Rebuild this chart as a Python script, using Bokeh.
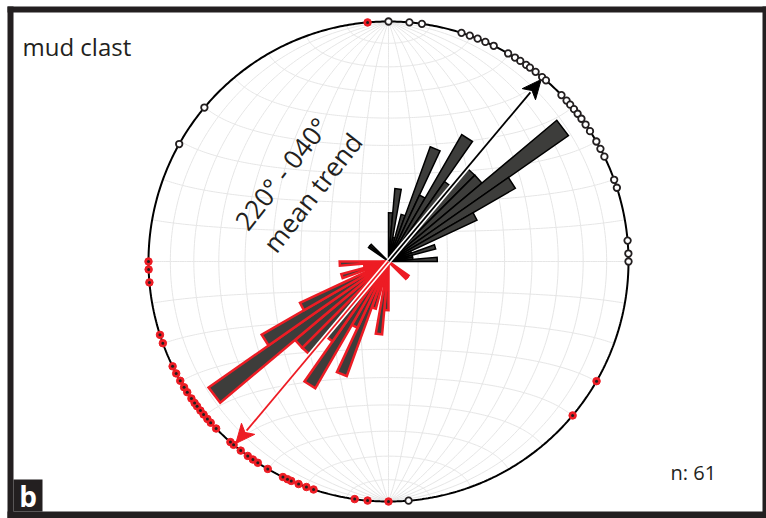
import numpy as np
from bokeh.plotting import figure
from bokeh.models import Range1d
from bokeh.core.properties import value
from bokeh.embed import file_html
from bokeh.resources import INLINE

# ---------------- data ----------------
title_text = "mud clast"
trend_text = "220° - 040°"
trend_label = "mean trend"
n_text = "n: 61"
panel_letter = "b"

mean_trend = 40.0            # degrees, axial mean (040 / 220)
bin_width = 5                # degrees
bin_starts = list(range(0, 180, 5))   # axial bins 0-180, mirrored to 180-360
bin_counts = [2, 3, 1, 2, 5, 3, 6, 4, 5, 5, 9, 6, 4, 1, 2, 1, 1, 2,
              0, 0, 0, 0, 0, 0, 0, 1, 1, 0, 0, 0, 0, 0, 0, 0, 0, 0]
count_scale = 0.1017         # fraction of net radius per count

# azimuths of measurements plotted on the primitive
open_az = [0, 5, 8, 17.7, 19.8, 21.8, 23.8, 26, 29.9, 31.8, 33.3, 35, 36.1, 37.8,
           39.8, 41, 46.1, 47.9, 49.2, 50.6, 52, 53.5, 55.2, 57.1, 60, 62, 64.1,
           70.1, 72.1, 85, 88.1, 90, 175.2, 299.3, 309.9]
red_az = [355, 119.9, 129.9, 180, 185, 188.1, 198.2, 200, 202, 203.9, 204.9, 206.1,
          210.2, 213, 214.4, 215.9, 218, 220.2, 221.2, 225.9, 227.8, 229, 230.4,
          231.6, 232.9, 233.9, 235.2, 237, 238.4, 240.2, 242.2, 244.1, 250.1, 252.2,
          265, 268.1, 270]

# ---------------- layout helpers ----------------
W, H = 766, 518
CX, CY, R = 388, 261, 240.0      # page pixel position of net centre and radius
OFF = 0


def X(px):
    return (px - CX) / R


def Y(py):
    return (CY - py) / R


DARK = "#231f20"
RED = "#ed1c24"
FILL = "#3d3d3b"
GRID = "#e6e6e6"

p = figure(width=W, height=H, output_backend="svg", toolbar_location=None,
           x_range=Range1d(X(OFF), X(OFF + W)), y_range=Range1d(Y(OFF + H), Y(OFF)),
           x_axis_location=None, y_axis_location=None, min_border=0,
           outline_line_color=None, background_fill_color="white",
           border_fill_color="white")
p.grid.visible = False


def proj(x, y, z):
    s = 1.0 / np.sqrt(1.0 + z)
    return x * s, y * s


# ---------------- Schmidt net grid ----------------
phi = np.radians(np.linspace(-90, 90, 181))
gx, gy = [], []
for lam_d in range(-80, 81, 10):
    lam = np.radians(lam_d)
    x, y = proj(np.cos(phi) * np.sin(lam), np.sin(phi), np.cos(phi) * np.cos(lam))
    gx.append(x)
    gy.append(y)
lam = np.radians(np.linspace(-90, 90, 181))
for ph_d in range(-80, 81, 10):
    ph = np.radians(ph_d)
    x, y = proj(np.cos(ph) * np.sin(lam), np.full_like(lam, np.sin(ph)), np.cos(ph) * np.cos(lam))
    gx.append(x)
    gy.append(y)
p.multi_line(gx, gy, line_color=GRID, line_width=1)

# ---------------- rose petals ----------------
def petal(d, r):
    a1 = np.radians(d - bin_width / 2)
    a2 = np.radians(d + bin_width / 2)
    return [0, r * np.sin(a1), r * np.sin(a2)], [0, r * np.cos(a1), r * np.cos(a2)]


bx, by, rx, ry = [], [], [], []
for s, c in zip(bin_starts, bin_counts):
    if c <= 0:
        continue
    for d in (s + bin_width / 2, s + bin_width / 2 + 180):
        xs, ys = petal(d, c * count_scale)
        if 90 < d <= 270:
            rx.append(xs); ry.append(ys)
        else:
            bx.append(xs); by.append(ys)
p.patches(bx, by, fill_color=FILL, line_color="black", line_width=1.5, line_join="miter")
p.patches(rx, ry, fill_color=FILL, line_color=RED, line_width=2.5, line_join="miter")

# ---------------- mean trend arrows ----------------
def arrow(az, color):
    a = np.radians(az)
    ux, uy = np.sin(a), np.cos(a)
    vx, vy = np.cos(a), -np.sin(a)
    tip = 0.99
    hl, hw = 0.08, 0.036
    base = tip - hl
    p.line([0, base * ux], [0, base * uy], line_color="white", line_width=5)
    p.line([0, base * ux + 0.01 * ux], [0, base * uy + 0.01 * uy], line_color=color, line_width=1.8)
    hx = [tip * ux, base * ux + hw * vx, (base + 0.02) * ux, base * ux - hw * vx]
    hy = [tip * uy, base * uy + hw * vy, (base + 0.02) * uy, base * uy - hw * vy]
    p.patch(hx, hy, fill_color=color, line_color=color, line_width=1)


arrow(mean_trend, "black")
arrow(mean_trend + 180, RED)

# ---------------- primitive circle ----------------
t = np.radians(np.linspace(0, 360, 721))
p.line(np.sin(t), np.cos(t), line_color="black", line_width=2)

# ---------------- points on the primitive ----------------
oa = np.radians(open_az)
p.scatter(np.sin(oa), np.cos(oa), size=6.5, fill_color="white", line_color=DARK, line_width=1.8)
ra = np.radians(red_az)
p.scatter(np.sin(ra), np.cos(ra), size=7.5, fill_color=RED, line_color=RED, line_width=1)
p.scatter(np.sin(ra), np.cos(ra), size=3, fill_color=DARK, line_color=None)

# ---------------- texts ----------------
FONT = value("Open Sans")
p.text([X(22)], [Y(46)], text=[title_text], text_font=FONT, text_font_size="24px",
       text_color=DARK, text_align="left", text_baseline="alphabetic")
p.text([X(670)], [Y(472)], text=[n_text], text_font=FONT, text_font_size="20px",
       text_color=DARK, text_align="left", text_baseline="alphabetic")
ang = np.radians(52)
p.text([X(281), X(312)], [Y(173), Y(192)], text=[trend_text, trend_label], angle=ang,
       text_font=FONT, text_font_size="26px", text_color=DARK,
       text_align="center", text_baseline="middle")

# ---------------- frame and panel letter ----------------
FL, FT, FRR, FB = 7, 6, 762, 511   # inner edges of frame bands (page px)
FR = 6
p.quad(left=[X(FL), X(FL), X(FL), X(FRR)],
       right=[X(W), X(W), X(FL + FR), X(W)],
       top=[Y(FT), Y(FB), Y(FT), Y(FT)],
       bottom=[Y(FT + FR), Y(H), Y(H), Y(H)],
       fill_color=DARK, line_color=None)
p.quad(left=[X(FL + FR)], right=[X(42)], top=[Y(479)], bottom=[Y(FB)],
       fill_color=DARK, line_color=None)
p.text([X(27.5)], [Y(495)], text=[panel_letter], text_font=FONT, text_font_size="28px",
       text_font_style="bold", text_color="white", text_align="center", text_baseline="middle")

open("out.html", "w").write(file_html(p, INLINE))
